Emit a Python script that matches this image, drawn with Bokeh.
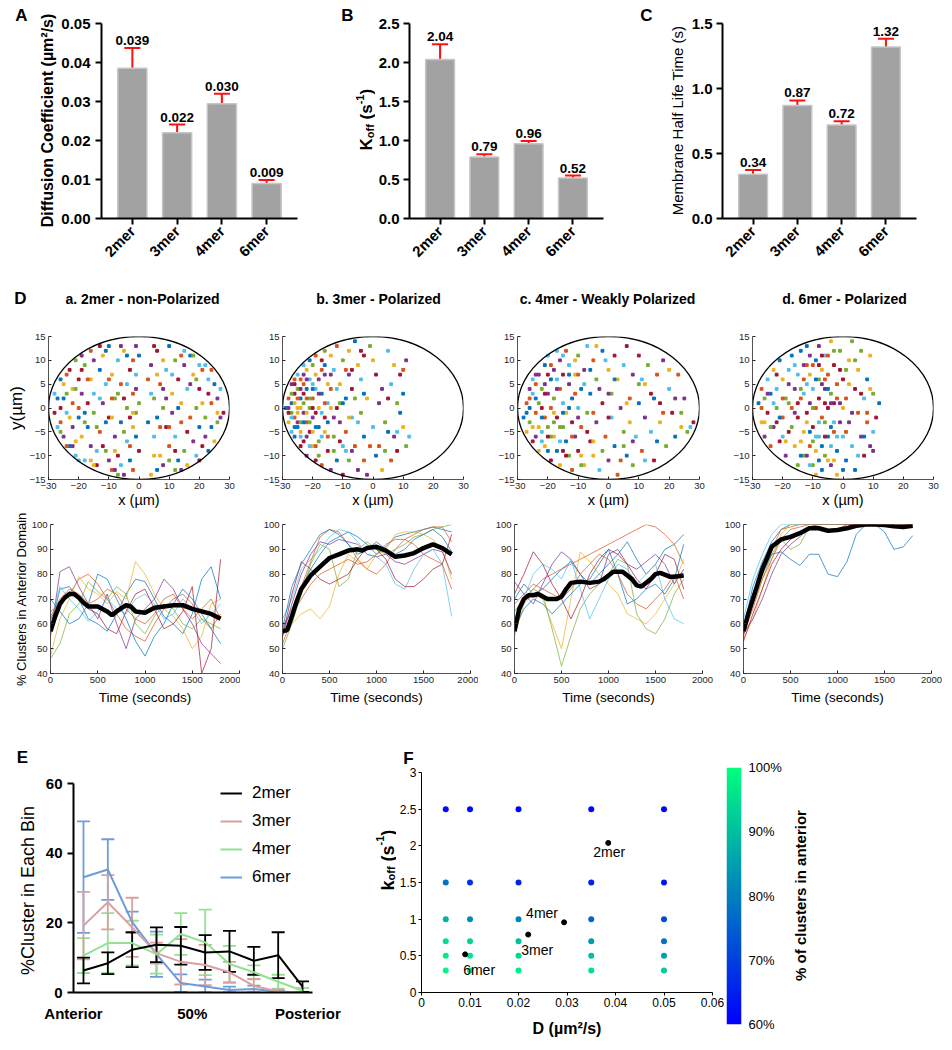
import numpy as np
from math import pi
from bokeh.plotting import figure
from bokeh.layouts import row, column
from bokeh.models import (Range1d, FactorRange, ColumnDataSource, Whisker, TeeHead, LabelSet, Label,
                          FixedTicker, NumeralTickFormatter, PrintfTickFormatter, Legend, LegendItem,
                          LinearColorMapper)
from bokeh.core.properties import value
from bokeh.embed import file_html
from bokeh.resources import INLINE

FONT = "Liberation Sans"

# ------------------------------------------------------------------ data
mers = ["2mer", "3mer", "4mer", "6mer"]
diff_vals = [0.0385, 0.0220, 0.0294, 0.0090]
diff_errs = [0.0052, 0.0021, 0.0026, 0.0009]
diff_labels = ["0.039", "0.022", "0.030", "0.009"]
koff_vals = [2.04, 0.79, 0.957, 0.52]
koff_errs = [0.195, 0.035, 0.036, 0.030]
koff_labels = ["2.04", "0.79", "0.96", "0.52"]
half_vals = [0.34, 0.87, 0.72, 1.32]
half_errs = [0.033, 0.038, 0.028, 0.062]
half_labels = ["0.34", "0.87", "0.72", "1.32"]
diff_ticks = [0, 0.01, 0.02, 0.03, 0.04, 0.05]
koff_ticks = [0, 0.5, 1.0, 1.5, 2.0, 2.5]
half_ticks = [0, 0.5, 1.0, 1.5]

d_titles = ["a. 2mer - non-Polarized", "b. 3mer - Polarized", "c. 4mer - Weakly Polarized", "d. 6mer - Polarized"]
sx_ticks = [-30, -20, -10, 0, 10, 20, 30]
sy_ticks = [-15, -10, -5, 0, 5, 10, 15]

pts_a = [(-27,2),(-26,-3),(-25,5),(-25,-6),(-24,3),(-24,-1),(-23,8),(-23,-8),(-22,1),(-22,4),(-22,-4),(-21,10),
         (-21,-10),(-20,6),(-20,-2),(-20,0),(-19,-6),(-19,3),(-18,9),(-18,-11),(-17,1),(-17,-4),(-16,12),(-16,6),
         (-16,-8),(-15,-1),(-15,3),(-14,-12),(-13,8),(-13,-5),(-12,11),(-12,1),(-11,-9),(-11,5),(-10,-2),(-10,13),
         (-9,-13),(-9,7),(-8,-6),(-8,2),(-7,10),(-7,-10),(-6,-3),(-6,5),(-5,12),(-5,-14),(-4,0),(-4,-7),(-3,8),
         (-3,-11),(-2,3),(-2,-4),(-1,13),(-1,-1),(-1,7),(0,-9),(0,11),(-2,-13),
         (4,-14),(4,9),(5,2),(5,-6),(6,12),(6,-2),(7,5),(7,-10),(8,-12),(8,0),(9,8),(9,-4),(10,13),(10,-8),(11,3),
         (11,-1),(12,10),(12,-6),(13,6),(13,-11),(14,-3),(14,1),(15,9),(15,-9),(16,4),(16,-5),(17,11),(17,-2),(18,7),
         (18,-7),(19,0),(19,-10),(20,4),(20,-4),(21,8),(21,1),(22,-6),(22,-2),(23,6),(23,3),(24,-4),(24,1),(25,-7),
         (26,2),(26,-3),(27,4),(28,-1),(3,-3),(3,6),(5,-10),(8,4),(12,-13),(15,12),(20,-11),(25,5),(10,-4),(6,7),
         (14,-13),(18,11),(22,9),
         (-28,-1),(-26,6),(-24,-8),(-21,-7),(-19,11),(-18,-3),(-14,-9),(-13,13),(-11,-3),(-9,2),(-8,-9),(-6,13),
         (-5,-5),(-4,5),(-3,-2),(-1,-6),(-2,10),(-15,-12),(-10,-11),(-7,-14),
         (-27,-4),(-26,0),(-25,2),(-24,7),(-23,-2),(-22,-8),(-21,4),(-20,-11),(-19,8),(-18,-1),(-17,6),(-16,-11),
         (-15,10),(-14,-4),(-13,2),(-12,-8),(-11,12),(-10,6),(-9,-2),(-8,-13),(-7,3),(-6,-12),(-5,2),(-4,11),
         (-3,-8),(-2,-1),(-1,4),(0,1),(4,3),(5,13),(6,-13),(7,-4),(8,10),(9,2),(10,-11),(11,7),(12,-9),(13,0),
         (14,11),(16,-12),(17,5),(19,6),(20,9),(21,-8),(23,-9),(24,8),(26,-1),(27,-2),(-26,-5),(-28,3)]
pts_b = [(-29,0),(-28,2),(-28,-3),(-27,5),(-27,-1),(-27,-5),(-26,3),(-26,-6),(-26,6),(-25,0),(-25,-3),(-25,4),
         (-25,7),(-24,-8),(-24,2),(-24,6),(-24,-5),(-23,-1),(-23,1),(-23,9),(-23,-7),(-22,4),(-22,-3),(-22,8),
         (-22,-10),(-21,0),(-21,6),(-21,-5),(-21,10),(-20,2),(-20,-8),(-20,-2),(-20,9),(-19,4),(-19,-11),(-19,-4),
         (-19,11),(-18,0),(-18,6),(-18,-7),(-17,-1),(-17,10),(-17,3),(-17,-12),(-16,-5),(-16,7),(-16,12),(-15,1),
         (-15,-9),(-15,-3),(-14,4),(-14,11),(-14,-13),(-13,-6),(-13,8),(-12,0),(-12,-11),(-12,13),(-11,5),(-11,-3),
         (-10,10),(-10,-8),(-10,-14),(-9,2),(-9,-5),(-8,12),(-8,7),(-8,-11),(-7,-2),(-7,4),(-6,14),(-6,-8),(-5,9),
         (-5,-13),(-4,-1),(-4,6),(-3,11),(-3,-6),(-3,-11),(-2,2),(-2,-14),(-1,13),(0,-4),(1,7),(1,-10),(2,-8),
         (3,-13),(3,4),(4,-3),(5,12),(5,2),(5,-5),(6,-11),(7,9),(7,-6),(8,1),(8,-5),(9,7),(9,-1),(10,8),(10,-4),
         (11,10),(11,-8),(12,-6),(-28,-1),(-27,1),(-26,-2),(-24,0),(-22,-6),(-21,2),(-20,5),(-19,-1),(-18,-4),
         (-16,1),(-15,5),(-13,-2),(-11,1),(-9,-9),(-7,8),(-25,-4),(-23,5),(-26,1),
         (-28,0),(-27,3),(-27,-2),(-26,5),(-26,-4),(-25,2),(-25,-1),(-24,4),(-24,-3),(-24,-6),(-23,3),(-23,-3),
         (-22,2),(-22,-1),(-22,6),(-21,-3),(-21,-8),(-20,0),(-20,4),(-19,-8),(-19,7),(-18,3),(-18,-10),(-17,-6),
         (-16,-2),(-16,9),(-15,-6),(-14,0),(-14,7),(-13,-9),(-12,4),(-11,-7),(-10,1),(-9,8),(-8,-2),(-7,-9),
         (-6,2),(-5,-3),(-4,12),(-3,3),(-1,-8),(0,10),(2,1),(4,-9),(6,5),(8,-9),(10,3),(-17,8),(-20,-5),(-23,7)]
pts_c = [(-28,-2),(-27,1),(-27,-5),(-26,4),(-26,-3),(-25,6),(-25,-7),(-24,2),(-24,-1),(-23,-9),(-23,7),(-22,4),
         (-22,-5),(-22,0),(-21,9),(-21,-2),(-21,-8),(-20,3),(-20,-4),(-20,11),(-19,-11),(-19,6),(-19,0),(-18,-6),
         (-18,8),(-18,2),(-17,12),(-17,-2),(-17,-9),(-16,4),(-16,-12),(-16,10),(-15,-4),(-15,1),(-15,7),(-14,-7),
         (-14,12),(-14,-1),(-13,5),(-13,-10),(-13,9),(-12,-3),(-12,2),(-12,-13),(-11,7),(-11,-6),(-10,11),(-10,0),
         (-10,-9),(-9,4),(-9,-4),(-8,-12),(-8,8),(-7,-1),(-7,13),(-6,-7),(-6,3),(-5,10),(-5,-10),(-4,-3),(-4,6),
         (-3,-13),(-2,1),(-2,12),(-1,-6),(0,8),(0,-11),(1,3),(1,-2),(2,11),(2,-8),(3,-14),(3,6),(4,0),(5,-5),(5,9),
         (6,13),(6,-10),(7,2),(7,-3),(8,7),(8,-12),(9,-6),(10,11),(10,1),(11,-9),(12,5),(12,-2),(13,9),(14,-5),
         (15,-11),(15,2),(16,7),(17,-3),(18,10),(19,-8),(20,4),(21,-1),(22,-6),(23,7),(24,-4),(25,2),(26,-5),
         (27,-4),(28,-3),(-26,0),(-24,5),(-23,-4),(-21,5),(-19,-6),(-17,6),(-15,-9),(-13,0),(-11,3),(-9,-10),
         (-24,-6),(-18,-3),(-16,-7),(-20,7),
         (-27,-1),(-26,2),(-25,-4),(-24,7),(-23,1),(-22,-7),(-21,3),(-20,-9),(-19,9),(-18,-1),(-17,4),(-16,-4),
         (-15,11),(-14,-10),(-13,7),(-12,-6),(-11,10),(-10,-2),(-9,-12),(-8,5),(-7,-5),(-6,8),(-5,-1),(-4,13),
         (-3,4),(-2,-9),(-1,10),(0,-2),(2,6),(4,-11),(6,1),(8,-7),(10,5),(12,-11),(14,3),(16,-7),(18,-1),(20,8),
         (22,2),(24,-1),(-25,3),(-20,-6),(-15,-1),(-10,7),(-5,-7),(0,3),(5,-8),(11,6),(17,1),(-22,-2)]
pts_d = [(-28,1),(-27,4),(-27,-3),(-26,-6),(-26,2),(-25,6),(-25,-1),(-24,3),(-24,-8),(-23,8),(-23,-4),(-22,0),
         (-22,4),(-21,-7),(-21,10),(-20,-2),(-20,6),(-19,-10),(-19,2),(-18,8),(-18,-5),(-17,11),(-17,0),(-16,-8),
         (-16,4),(-15,-12),(-15,7),(-15,-2),(-14,12),(-14,2),(-13,-5),(-13,9),(-13,-10),(-12,5),(-12,-1),(-12,13),
         (-11,-8),(-11,7),(-11,1),(-10,-12),(-10,4),(-10,-4),(-9,10),(-9,0),(-9,-9),(-8,13),(-8,6),(-8,-6),(-8,2),
         (-7,-13),(-7,-2),(-7,8),(-6,4),(-6,-10),(-6,11),(-5,0),(-5,-6),(-5,7),(-4,14),(-4,-12),(-4,3),(-3,-3),
         (-3,9),(-2,-9),(-2,5),(-2,-14),(-1,1),(-1,12),(0,-6),(0,6),(1,-11),(1,2),(2,10),(2,-3),(3,14),(3,-8),(4,4),
         (4,-13),(5,-1),(5,8),(6,-6),(6,12),(7,2),(7,-10),(8,6),(8,-3),(9,11),(9,-8),(10,3),(10,-5),(11,-2),(12,1),
         (-10,9),(-9,-14),(-7,5),(-6,-3),(-4,-8),(-3,1),(-11,-5),(-12,9),(-14,-7),(-16,-1),(-18,1),(-20,-6),
         (-22,-3),(-8,-11),(-5,11),(-3,-11),(-1,-3),(1,8),(-13,3),(-6,1),(-9,6),
         (-27,0),(-26,-3),(-25,3),(-24,-4),(-23,1),(-22,7),(-21,-2),(-20,2),(-19,-7),(-18,5),(-17,-4),(-16,9),
         (-15,1),(-14,-10),(-13,6),(-12,-3),(-11,11),(-10,0),(-9,-6),(-8,9),(-7,-8),(-6,6),(-5,-11),(-4,1),
         (-3,12),(-2,-6),(-1,8),(0,-13),(1,-5),(2,5),(3,-1),(4,10),(5,-10),(6,3),(7,-6),(8,-1),(9,4),(10,-9),
         (-10,-7),(-8,-3),(-6,-6),(-4,-4),(-2,2),(0,0),(-12,-10),(-14,4),(-11,-12),(-7,11),(-5,4),(-3,-5)]

t_grid = [0, 100, 200, 300, 400, 500, 600, 700, 800, 900, 1000, 1100, 1200, 1300, 1400, 1500, 1600, 1700, 1800]
t_xticks = [0, 500, 1000, 1500, 2000]
t_yticks = [40, 50, 60, 70, 80, 90, 100]

runs_a = [
    [58,74,75,70,62,60,57,64,72,78,77,70,63,60,56,64,78,83,70],
    [65,68,72,78,80,76,70,64,58,55,53,60,66,70,72,68,62,58,64],
    [47,62,70,79,74,72,68,73,70,85,80,72,66,63,58,50,55,68,70],
    [55,81,83,75,68,62,72,60,50,62,66,70,78,74,66,60,52,48,44],
    [46,52,64,68,77,73,70,75,72,60,56,63,68,66,60,58,62,60,58],
    [60,75,70,66,61,65,70,66,64,70,72,68,62,64,70,66,60,64,68],
    [62,68,73,70,66,64,58,56,65,72,74,66,58,60,65,75,40,50,86],
    [70,65,60,62,68,80,78,70,62,53,47,55,60,68,74,70,64,58,52],
    [63,70,74,72,68,70,74,72,66,62,60,64,70,72,66,62,66,70,62]]
runs_b = [
    [58,66,75,82,88,93,95,97,95,92,88,91,95,96,97,98,99,98,97],
    [52,62,75,85,95,98,97,92,86,82,80,84,90,94,96,98,99,99,93],
    [56,60,64,66,62,67,80,88,85,82,88,90,96,97,97,96,94,90,78],
    [55,68,80,88,93,92,94,93,92,88,87,88,85,84,86,88,90,89,80],
    [50,60,72,84,92,90,75,78,90,93,90,88,90,92,95,96,98,99,100],
    [62,70,82,86,90,95,98,97,93,88,87,84,76,74,82,88,90,84,63],
    [55,72,85,82,78,76,78,80,86,91,90,86,78,75,75,78,82,84,96],
    [58,75,84,90,96,98,96,92,88,90,93,90,88,90,94,96,98,95,89],
    [60,64,70,76,80,82,84,86,84,85,88,92,94,94,92,88,86,84,74]]
runs_c = [
    [70,76,72,74,78,82,85,80,76,80,84,88,93,86,80,84,90,92,96],
    [60,70,74,78,80,82,84,86,88,90,92,94,96,98,100,99,96,92,84],
    [55,68,72,70,60,50,70,89,85,80,76,72,64,62,60,64,70,76,86],
    [77,72,68,76,84,89,86,80,74,76,88,90,84,82,85,88,84,76,82],
    [65,70,74,72,58,43,55,66,72,76,80,86,84,64,58,56,62,72,78],
    [62,70,80,84,82,78,86,74,62,70,78,84,82,76,80,84,70,62,60],
    [72,80,89,84,76,70,62,70,80,86,90,88,84,78,74,80,88,86,74],
    [58,66,70,68,64,68,72,76,78,84,90,80,68,70,74,76,72,78,92],
    [68,72,76,74,72,70,74,80,84,88,86,80,72,68,66,70,74,80,70]]
runs_d = [
    [58,75,85,93,98,100,100,100,100,100,100,100,100,100,100,100,100,100,100],
    [55,68,80,90,98,99,100,100,100,100,100,100,100,100,100,100,99,100,100],
    [54,62,74,86,96,100,100,100,100,100,100,100,100,100,100,100,100,100,100],
    [56,62,70,80,88,92,95,99,100,100,100,100,100,100,100,100,100,100,100],
    [60,68,78,88,94,90,92,99,100,100,100,100,100,100,100,100,100,100,100],
    [62,78,88,96,100,100,100,100,100,100,100,100,100,100,100,100,100,100,100],
    [53,64,74,84,90,94,96,98,99,97,98,100,100,100,100,100,99,100,100],
    [57,70,80,88,89,86,83.5,88,88,80,79,85,96,100,100,97,90,91,95.5],
    [56,66,78,86,94,98,99,100,100,100,100,100,100,100,100,100,100,100,100]]

mean_a_t = [0,50,100,150,200,250,300,350,400,500,600,650,700,800,850,900,1000,1100,1200,1300,1400,1500,1600,1700,1800]
mean_a = [57,63,68,70.5,72,72,70.5,68.5,67,67,65,63.5,65,67.5,67,65,64.5,66.5,67,67.5,67.5,66,65,64,62]
mean_b_t = [0,50,100,150,200,300,400,500,600,700,800,850,900,1000,1100,1200,1300,1400,1500,1600,1700,1800]
mean_b = [57,57.5,63,69,74,79.5,83,86.5,88,89.5,90,89.5,90.5,91,89.5,87,87.5,88.5,90.5,92,90.5,88]
mean_c_t = [0,50,100,150,200,250,300,350,450,500,550,600,700,800,900,950,1000,1050,1150,1250,1300,1350,1450,1500,1550,1650,1700,1800]
mean_c = [57,66,70,71.5,71.5,72,71,70,70,71,74,76.5,77,76.5,77,78,79.5,81,81,78,75.5,75,78,80,80.5,79,79,79.5]
mean_d_t = [0,50,100,150,200,250,300,400,500,600,700,800,900,1000,1100,1200,1300,1400,1500,1600,1700,1800]
mean_d = [57,64,70,76,82,86.5,91,94,95,96.5,98.5,98.5,97.5,97.8,98.5,99.5,100,100,99.8,99.3,99,99.5]

e_bins = [1, 2, 3, 4, 5, 6, 7, 8, 9, 10]
e_2mer = [6.3, 8.4, 12.3, 13.7, 13.4, 11.5, 11.8, 9.1, 10.7, 1.7]
e_2mer_err = [3.7, 3.1, 5.0, 5.0, 5.4, 5.0, 5.9, 4.0, 6.6, 1.5]
e_3mer = [19.2, 25.9, 18.7, 11.3, 8.8, 7.9, 5.8, 1.9, 0.3, 0.0]
e_3mer_err = [9.7, 7.8, 8.5, 3.0, 6.5, 5.8, 3.0, 2.0, 0.5, 0.0]
e_4mer = [10.6, 14.2, 14.2, 11.0, 16.8, 14.4, 8.2, 5.8, 3.1, 0.5]
e_4mer_err = [5.0, 8.6, 6.4, 5.6, 6.0, 9.4, 5.2, 2.0, 2.0, 0.8]
e_6mer = [33.1, 35.3, 20.2, 11.0, 2.7, 1.7, 0.7, 1.0, 0.2, 0.0]
e_6mer_err = [16.0, 8.7, 3.0, 6.5, 2.5, 2.0, 1.0, 1.0, 0.3, 0.0]
e_yticks = [0, 20, 40, 60]
e_xtick_pos = [0.59, 5.47, 10.22]
e_xtick_labels = ["Anterior", "50%", "Posterior"]

f_D = [0.005, 0.01, 0.02, 0.035, 0.05]
f_koff = [0.3, 0.5, 0.7, 1.0, 1.5, 2.5]
f_pct = [  # rows follow f_koff, columns follow f_D
    [99, 98, 97, 95, 92],
    [97, 96, 94, 90, 85],
    [95, 93, 90, 84, 78],
    [88, 82, 80, 76, 72],
    [78, 68, 66, 65, 64],
    [62, 62, 61, 61, 61]]
f_xticks = [0, 0.01, 0.02, 0.03, 0.04, 0.05, 0.06]
f_yticks = [0, 0.5, 1, 1.5, 2, 2.5, 3]
cb_ticks = [60, 70, 80, 90, 100]

# ------------------------------------------------------------------ helpers
MCOL = ["#0072BD", "#D95319", "#EDB120", "#7E2F8E", "#77AC30", "#4DBEEE", "#A2142F"]
WINTER = ["#%02x%02x%02x" % (0, int(round(255 * i / 255)), int(round(255 * (1 - 0.5 * i / 255)))) for i in range(256)]
BW = {"K": .722, "k": .556, "o": .611, "f": .333, " ": .278, "(": .333, "s": .556, "-": .333, "1": .556, ")": .333}


def make_fig(w, h, l, r, t, b, xr, yr, **kw):
    p = figure(width=w, height=h, x_range=xr, y_range=yr, min_border_left=l, min_border_right=r,
               min_border_top=t, min_border_bottom=b, toolbar_location=None, output_backend="svg",
               title=None, **kw)
    p.outline_line_color = None
    p.xgrid.visible = False
    p.ygrid.visible = False
    return p


def strip(w, h):
    """a text-only figure whose frame is its whole canvas, in pixel units (y up)"""
    p = figure(width=w, height=h, x_range=Range1d(0, w), y_range=Range1d(0, h), min_border=0,
               toolbar_location=None, output_backend="svg", title=None,
               x_axis_location=None, y_axis_location=None)
    p.outline_line_color = None
    p.xgrid.visible = False
    p.ygrid.visible = False
    return p


def slab(p, x, y, text, size, bold=False, angle=0.0, align="center", baseline="middle"):
    p.add_layout(Label(x=x, y=y, text=text, text_font=FONT, text_font_size=f"{size}px",
                       text_font_style="bold" if bold else "normal", angle=angle, text_align=align,
                       text_baseline=baseline, text_color="black"))


def rot_pieces(p, xb, y0, pieces, bold=True):
    y = y0
    for text, size, dxp in pieces:
        body = text.lstrip(" ")
        y += (len(text) - len(body)) * BW[" "] * size
        slab(p, xb + dxp, y, body, size, bold=bold, angle=pi / 2, align="left", baseline="alphabetic")
        y += sum(BW[c] for c in body) * size


def axis_title(a, text, size, standoff, bold=False):
    a.axis_label = text
    a.axis_label_text_font = FONT
    a.axis_label_text_font_size = f"{size}px"
    a.axis_label_text_font_style = "bold" if bold else "normal"
    a.axis_label_text_color = "black"
    a.axis_label_standoff = standoff


def gp_axis(a, size="15px"):
    a.axis_line_width = 2
    a.axis_line_color = "black"
    a.major_tick_line_width = 2
    a.major_tick_line_color = "black"
    a.major_tick_out = 6
    a.major_tick_in = 0
    a.minor_tick_line_color = None
    a.major_label_text_font = FONT
    a.major_label_text_font_style = "bold"
    a.major_label_text_font_size = size
    a.major_label_text_color = "black"


def ml_axis(a, ticks):
    a.ticker = FixedTicker(ticks=ticks)
    a.axis_line_color = "#262626"
    a.axis_line_width = 0.8
    a.major_tick_in = 3
    a.major_tick_out = 0
    a.major_tick_line_color = "#262626"
    a.minor_tick_line_color = None
    a.major_label_text_font = FONT
    a.major_label_text_font_size = "9.5px"
    a.major_label_text_color = "#262626"
    a.major_label_standoff = 3


def hbox(*items):
    # each child in its own column so that bokeh does not align the frames across the row
    return row(*[column(it) for it in items])


def vbox(*items):
    return column(*[column(it) for it in items])


# ------------------------------------------------------------------ row 1: bar charts (page y 0..270)
def bar_panel(w, l, r, vals, errs, labels, ymax, ticks, fmt, standoff=5):
    p = make_fig(w, 270, l, r, 23, 52,
                 FactorRange(*mers, range_padding=0.19, range_padding_units="absolute"), Range1d(0, ymax))
    src = ColumnDataSource(dict(x=mers, top=vals, upper=[v + e for v, e in zip(vals, errs)],
                                lower=[v - e for v, e in zip(vals, errs)], lab=labels))
    p.vbar(x="x", top="top", width=0.65, source=src, fill_color="#A2A2A2", line_color="#C6C6C6", line_width=1.5)
    p.add_layout(Whisker(source=src, base="x", upper="upper", lower="lower", line_color="#FF1010", line_width=2,
                         upper_head=TeeHead(size=16, line_color="#FF1010", line_width=2),
                         lower_head=TeeHead(size=16, line_color="#FF1010", line_width=2)))
    p.add_layout(LabelSet(x="x", y="upper", text="lab", source=src, y_offset=3, text_align="center",
                          text_baseline="bottom", text_font=value(FONT), text_font_size=value("13.5px"),
                          text_font_style="bold", text_color="black"))
    gp_axis(p.xaxis[0])
    gp_axis(p.yaxis[0])
    p.yaxis[0].ticker = FixedTicker(ticks=ticks)
    p.yaxis[0].formatter = NumeralTickFormatter(format=fmt)
    p.yaxis[0].major_label_standoff = standoff
    p.xaxis[0].major_label_orientation = pi / 4
    p.xaxis[0].major_label_standoff = 4
    return p


sA = strip(58, 270)
slab(sA, 21, 255, "A", 17, bold=True)
slab(sA, 47, 150, "Diffusion Coefficient (µm²/s)", 16, bold=True, angle=pi / 2)
pA = bar_panel(260, 42, 21, diff_vals, diff_errs, diff_labels, 0.05, diff_ticks, "0.00")

sB = strip(57, 270)
slab(sB, 29, 255, "B", 17, bold=True)
rot_pieces(sB, 48, 120, [("K", 17, 0), ("off", 11, 3), (" (s", 17, 0), ("-1", 11, -7), (")", 17, 0)])
pB = bar_panel(253, 32, 25, koff_vals, koff_errs, koff_labels, 2.5, koff_ticks, "0.0", standoff=4)

sC = strip(60, 270)
slab(sC, 18, 255, "C", 17, bold=True)
slab(sC, 49, 150, "Membrane Half Life Time (s)", 15, bold=False, angle=pi / 2)
pC = bar_panel(256, 32, 28, half_vals, half_errs, half_labels, 1.5, half_ticks, "0.0", standoff=4)

# ------------------------------------------------------------------ row 2: simulated cluster positions (270..512)
sD = strip(944, 50)
slab(sD, 20, 22, "D", 17, bold=True)
for cx, ttl in zip([142, 378, 607, 844], d_titles):
    slab(sD, cx, 22, ttl, 14, bold=True)


def scatter_panel(w, l, r, pts):
    p = make_fig(w, 192, l, r, 16, 33, Range1d(-30, 30), Range1d(-15, 15))
    ml_axis(p.xaxis[0], sx_ticks)
    ml_axis(p.yaxis[0], sy_ticks)
    xs = [q[0] for q in pts]
    ys = [q[1] for q in pts]
    cols = [MCOL[i % 7] for i in range(len(pts))]
    p.scatter(xs, ys, marker="square", size=2.8, color=cols)
    p.ellipse(x=[0], y=[0], width=[60], height=[30], fill_color=None, line_color="black", line_width=1.3)
    axis_title(p.xaxis[0], "x (µm)", 14.5, 0)
    return p


pDa = scatter_panel(240, 48, 11, pts_a)
axis_title(pDa.yaxis[0], "y(µm)", 17, 0)
pDb = scatter_panel(238, 42, 15, pts_b)
pDc = scatter_panel(237, 39, 16, pts_c)
pDd = scatter_panel(229, 37, 11, pts_d)

# ------------------------------------------------------------------ row 3: time courses (512..722)
def time_panel(w, l, r, runs, mt, mv):
    p = make_fig(w, 210, l, r, 12, 49, Range1d(0, 2000), Range1d(40, 100))
    ml_axis(p.xaxis[0], t_xticks)
    ml_axis(p.yaxis[0], t_yticks)
    for i, run in enumerate(runs):
        p.line(t_grid, run, line_color=MCOL[i % 7], line_width=1, line_alpha=0.7)
    p.line(mt, mv, line_color="black", line_width=4.5)
    axis_title(p.xaxis[0], "Time (seconds)", 13.5, 4)
    return p


pTa = time_panel(240, 50, 1, runs_a, mean_a_t, mean_a)
axis_title(pTa.yaxis[0], "% Clusters in Anterior Domain", 13, 0)
pTb = time_panel(238, 42, 8, runs_b, mean_b_t, mean_b)
pTc = time_panel(237, 36, 13, runs_c, mean_c_t, mean_c)
pTd = time_panel(229, 28, 13, runs_d, mean_d_t, mean_d)

# ------------------------------------------------------------------ row 4, E: distribution along the axis (722..1046)
sE = strip(40, 324)
slab(sE, 22, 289, "E", 17, bold=True)
slab(sE, 27, 156, "%Cluster in Each Bin", 18, angle=pi / 2)

pE = make_fig(320, 324, 33, 48, 61, 54, Range1d(0.59, 10.41), Range1d(0, 60))
gp_axis(pE.xaxis[0])
gp_axis(pE.yaxis[0])
pE.yaxis[0].ticker = FixedTicker(ticks=e_yticks)
pE.xaxis[0].ticker = FixedTicker(ticks=e_xtick_pos)
pE.xaxis[0].major_label_overrides = dict(zip(e_xtick_pos, e_xtick_labels))
pE.xaxis[0].major_tick_out = 0
pE.xaxis[0].major_label_standoff = 12

E_SERIES = [("2mer", e_2mer, e_2mer_err, "#000000"), ("3mer", e_3mer, e_3mer_err, "#D9A0A0"),
            ("4mer", e_4mer, e_4mer_err, "#92E292"), ("6mer", e_6mer, e_6mer_err, "#6D9CDA")]
e_rend = {}
for name, vals, errs, col in reversed(E_SERIES):
    src = ColumnDataSource(dict(x=e_bins, y=vals, up=[v + e for v, e in zip(vals, errs)],
                                lo=[max(0, v - e) for v, e in zip(vals, errs)]))
    pE.add_layout(Whisker(source=src, base="x", upper="up", lower="lo", line_color=col, line_width=1.8,
                          upper_head=TeeHead(size=13, line_color=col, line_width=1.8),
                          lower_head=TeeHead(size=13, line_color=col, line_width=1.8)))
    e_rend[name] = pE.line("x", "y", source=src, line_color=col, line_width=2)
legE = Legend(items=[LegendItem(label=n, renderers=[e_rend[n]]) for n, _, _, _ in E_SERIES],
              location=(147, 105), glyph_width=22, glyph_height=20, label_height=20, spacing=8, padding=0,
              margin=0, label_standoff=10, border_line_color=None, background_fill_alpha=0,
              label_text_font=FONT, label_text_font_size="17px", label_text_color="black")
pE.add_layout(legE)

# ------------------------------------------------------------------ row 4, F: parameter scan
sFl = strip(36, 324)
rot_pieces(sFl, 27, 156, [("k", 18, 0), ("off", 11, 3), (" (s", 18, 0), ("-1", 11, -8), (")", 18, 0)])
sFt = strip(329, 45)
slab(sFt, 12, 9, "F", 17, bold=True)

mapper = LinearColorMapper(palette=WINTER, low=60, high=100)
pF = make_fig(329, 279, 22, 13, 5, 54, Range1d(0, 0.06), Range1d(0, 3))
for a, tk, fm in ((pF.xaxis[0], f_xticks, "0.[00]"), (pF.yaxis[0], f_yticks, "0.[0]")):
    a.ticker = FixedTicker(ticks=tk)
    a.formatter = NumeralTickFormatter(format=fm)
    a.axis_line_color = "black"
    a.axis_line_width = 1
    a.major_tick_out = 3
    a.major_tick_in = 0
    a.major_label_standoff = 2
    a.minor_tick_line_color = None
    a.major_label_text_font = FONT
    a.major_label_text_font_size = "12px"
    a.major_label_text_color = "black"
axis_title(pF.xaxis[0], "D (µm²/s)", 16, 10, bold=True)
gx, gy, gp = [], [], []
for i, k in enumerate(f_koff):
    for j, dval in enumerate(f_D):
        gx.append(dval)
        gy.append(k)
        gp.append(f_pct[i][j])
pF.scatter("x", "y", source=ColumnDataSource(dict(x=gx, y=gy, pct=gp)), size=6,
           fill_color={"field": "pct", "transform": mapper}, line_color=None)
pF.scatter(diff_vals, koff_vals, size=5, color="black")
lab_dx = [-15, -7, -38, -2]
lab_dy = [1, 7, -17, 8]
pF.text(x="x", y="y", text="t", source=ColumnDataSource(dict(x=diff_vals, y=koff_vals, t=mers, dx=lab_dx, dy=lab_dy)),
        x_offset="dx", y_offset="dy", text_align="left", text_baseline="top", text_font=value(FONT),
        text_font_size=value("14px"), text_color="black")

# colour bar
pCB = make_fig(65, 324, 1, 49, 45, 22, Range1d(0, 1), Range1d(60, 100),
               y_axis_location="right", x_axis_location=None)
grad = np.linspace(60, 100, 256).reshape(256, 1)
pCB.image(image=[grad], x=0, y=60, dw=1, dh=40, color_mapper=mapper)
acb = pCB.yaxis[0]
acb.ticker = FixedTicker(ticks=cb_ticks)
acb.formatter = PrintfTickFormatter(format="%d%%")
acb.axis_line_color = None
acb.major_tick_out = 0
acb.major_tick_in = 0
acb.minor_tick_line_color = None
acb.major_label_standoff = 7
acb.major_label_text_font = FONT
acb.major_label_text_font_size = "13px"
acb.major_label_text_color = "black"
sCB = strip(154, 324)
slab(sCB, 10, 151, "% of clusters in anterior", 15, bold=True, angle=pi / 2)

layout = column(
    hbox(sA, pA, sB, pB, sC, pC),
    sD,
    hbox(pDa, pDb, pDc, pDd),
    hbox(pTa, pTb, pTc, pTd),
    hbox(sE, pE, sFl, vbox(sFt, pF), pCB, sCB),
)
open("out.html", "w").write(file_html(layout, INLINE))
